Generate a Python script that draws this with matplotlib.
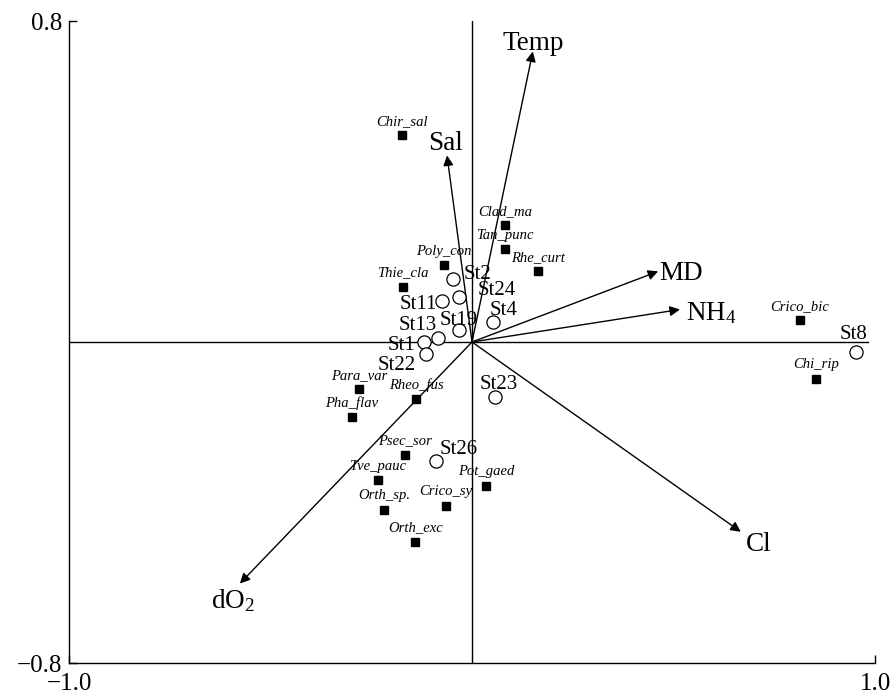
import matplotlib
matplotlib.use("Agg")
import matplotlib.pyplot as plt

plt.rcParams['font.family'] = ['Liberation Serif', 'DejaVu Serif']
plt.rcParams['mathtext.fontset'] = 'custom'
plt.rcParams['mathtext.rm'] = 'Liberation Serif'
plt.rcParams['mathtext.it'] = 'Liberation Serif:italic'

# ---- data ----
species_names = ["Chir_sal", "Clad_ma", "Tan_punc", "Rhe_curt", "Poly_con", "Thie_cla",
                 "Crico_bic", "Chi_rip", "Para_var", "Pha_flav", "Rheo_fus", "Psec_sor",
                 "Tve_pauc", "Orth_sp.", "Crico_sy", "Pot_gaed", "Orth_exc"]
species_x = [-0.174, 0.082, 0.082, 0.164, -0.069, -0.171, 0.814, 0.854, -0.280, -0.298,
             -0.139, -0.166, -0.233, -0.218, -0.065, 0.035, -0.141]
species_y = [0.515, 0.291, 0.231, 0.176, 0.191, 0.138, 0.054, -0.091, -0.118, -0.188,
             -0.143, -0.281, -0.345, -0.418, -0.408, -0.358, -0.498]

station_names = ["St1", "St2", "St4", "St8", "St11", "St13", "St19", "St22", "St23", "St24", "St26"]
station_x = [-0.119, -0.047, 0.052, 0.953, -0.074, -0.084, -0.032, -0.114, 0.057, -0.032, -0.089]
station_y = [0.001, 0.158, 0.049, -0.026, 0.103, 0.011, 0.029, -0.031, -0.136, 0.113, -0.296]

env_names = ["Temp", "Sal", "MD", "NH$_4$", "Cl", "dO$_2$"]
env_x = [0.151, -0.062, 0.462, 0.516, 0.667, -0.576]
env_y = [0.724, 0.465, 0.176, 0.081, -0.473, -0.602]

x_ticks = [-1.0, 1.0]
x_ticklabels = ["\u22121.0", "1.0"]
y_ticks = [-0.8, 0.8]
y_ticklabels = ["\u22120.8", "0.8"]

# ---- label placement (pixels: dx right, dy up) ----
PX = 72 / 100.0
station_lab = {
    "St1": ("right", -9, -4), "St2": ("left", 11, 4), "St4": ("center", 11, 12),
    "St8": ("center", -3, 18), "St11": ("right", -5, -4), "St13": ("right", -1, 12),
    "St19": ("center", 0, 10), "St22": ("right", -10, -11), "St23": ("center", 4, 12),
    "St24": ("left", 19, 6), "St26": ("left", 3, 11),
}
env_lab = {  # baseline-anchored
    "Temp": ("center", 0, 1), "Sal": ("center", -2, 5), "MD": ("left", 1, -9),
    "NH$_4$": ("left", 6, -11), "Cl": ("left", 5, -19), "dO$_2$": ("center", -7, -25),
}

fig = plt.figure(figsize=(8.93, 6.94), dpi=100)
ax = fig.add_axes([69 / 893, 1 - 663 / 694, 806 / 893, 642 / 694])
ax.set_xlim(-1.0, 1.0)
ax.set_ylim(-0.8, 0.8)

for s in ["top", "right"]:
    ax.spines[s].set_visible(False)
for s in ["left", "bottom"]:
    ax.spines[s].set_linewidth(1.0)

ax.set_xticks(x_ticks)
ax.set_xticklabels(x_ticklabels)
ax.set_yticks(y_ticks)
ax.set_yticklabels(y_ticklabels)
ax.tick_params(axis='both', direction='in', length=6, width=1.0, labelsize=18)
ax.tick_params(axis='x', pad=7)
ax.tick_params(axis='y', pad=5)

# axes cross lines
ax.plot([-1.0, 0.983], [0, 0], color='black', lw=1.0, zorder=1)
ax.plot([0, 0], [-0.8, 0.8], color='black', lw=1.0, zorder=1)

# environmental arrows
for name, x, y in zip(env_names, env_x, env_y):
    ax.annotate('', xy=(x, y), xytext=(0, 0),
                arrowprops=dict(arrowstyle='-|>', color='black', lw=1.0,
                                mutation_scale=15, shrinkA=0, shrinkB=0), zorder=2)
    ha, dx, dy = env_lab[name]
    ax.annotate(name, xy=(x, y), xytext=(dx * PX, dy * PX), textcoords='offset points',
                ha=ha, va='baseline', fontsize=19.5)

# species squares
ax.plot(species_x, species_y, linestyle='none', marker='s', markersize=5.8,
        color='black', zorder=3)
for name, x, y in zip(species_names, species_x, species_y):
    ax.annotate(name, xy=(x, y), xytext=(0, 14 * PX), textcoords='offset points',
                ha='center', va='center', fontsize=10.5, style='italic')

# station circles
ax.plot(station_x, station_y, linestyle='none', marker='o', markersize=9.5,
        markerfacecolor='white', markeredgecolor='black', markeredgewidth=0.9, zorder=3)
for name, x, y in zip(station_names, station_x, station_y):
    ha, dx, dy = station_lab[name]
    ax.annotate(name, xy=(x, y), xytext=(dx * PX, dy * PX), textcoords='offset points',
                ha=ha, va='center', fontsize=15)

fig.savefig("out.png", dpi=100)
